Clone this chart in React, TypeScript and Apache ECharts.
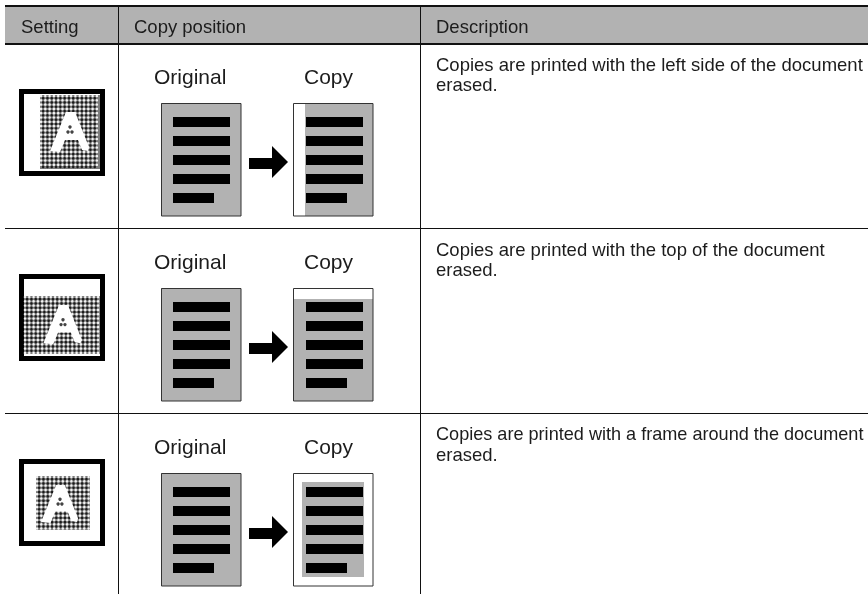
import React, { useEffect, useRef } from "react";
import * as echarts from "echarts";

const headers = ["Setting", "Copy position", "Description"];
const headerX = [21, 134, 436];
const rowOriginal = "Original";
const rowCopy = "Copy";
const descriptions = [
  ["Copies are printed with the left side of the document", "erased."],
  ["Copies are printed with the top of the document", "erased."],
  ["Copies are printed with a frame around the document", "erased."],
];
const descriptionSizes = [18.5, 18.5, 18.1];
const rowOffsets = [0, 185, 370];
const barTops = [117, 136, 155, 174, 193];
const GRAY = "#b2b2b2";
const FONT = '"Liberation Sans", Arial, sans-serif';

const rect = (x: number, y: number, w: number, h: number, fill: string, extra: any = {}) => ({
  type: "rect",
  silent: true,
  shape: { x, y, width: w, height: h },
  style: { fill, ...extra },
});
const text = (x: number, y: number, t: string, size: number) => ({
  type: "text",
  silent: true,
  x,
  y,
  style: { text: t, fill: "#1c1c1c", font: `${size}px ${FONT}`, verticalAlign: "middle", align: "left" },
});

function dither(x0: number, y0: number, x1: number, y1: number) {
  const out: any[] = [rect(x0, y0, x1 - x0, y1 - y0, "#7c7c7c")];
  const pitch = 4.3;
  for (let y = y0; y + 2 <= y1; y += pitch) {
    for (let x = x0; x + 2 <= x1; x += pitch) {
      out.push({ type: "circle", silent: true, shape: { cx: x + 1, cy: y + 1, r: 1.25 }, style: { fill: "#f4f4f4" } });
      if (x + pitch / 2 + 2 <= x1 && y + pitch / 2 + 2 <= y1) {
        out.push({ type: "circle", silent: true, shape: { cx: x + 1 + pitch / 2, cy: y + 1 + pitch / 2, r: 1.25 }, style: { fill: "#1a1a1a" } });
      }
    }
  }
  return out;
}

function letterA(px: number, py: number, s: number) {
  const P = (dx: number, dy: number) => [px + dx * s, py + dy * s];
  return [
    {
      type: "polygon",
      silent: true,
      shape: {
        points: [P(-4, 0), P(5, 0), P(19, 35), P(18, 39), P(12, 38), P(8, 28), P(-5, 28), P(-10, 40), P(-20, 39)],
      },
      style: { fill: "#ffffff" },
    },
    { type: "circle", silent: true, shape: { cx: px, cy: py + 15 * s, r: 1.7 }, style: { fill: "#444" } },
    { type: "circle", silent: true, shape: { cx: px - 2 * s, cy: py + 20 * s, r: 1.7 }, style: { fill: "#444" } },
    { type: "circle", silent: true, shape: { cx: px + 2 * s, cy: py + 20 * s, r: 1.7 }, style: { fill: "#444" } },
  ];
}

function icon(kind: number, off: number) {
  const x = 19, y = 89 + off, size = 86, b = 5;
  const parts: any[] = [rect(x, y, size, size + 1, "#000"), rect(x + b, y + b, size - 2 * b, size + 1 - 2 * b, "#fff")];
  if (kind === 0) {
    parts.push(...dither(40, y + b + 1, x + size - b, y + size - b - 1));
    parts.push(...letterA(70, y + 23, 1));
  } else if (kind === 1) {
    parts.push(...dither(x + b, y + 22, x + size - b, y + size - b - 1));
    parts.push(...letterA(63, y + 31, 0.98));
  } else {
    parts.push(...dither(36, 476, 90, 530));
    parts.push(...letterA(60, 485, 0.95));
  }
  return parts;
}

function page(x: number, off: number, kind: number) {
  const y = 103 + off;
  const parts: any[] = [rect(x, y, 80, 113, kind < 0 ? GRAY : "#fff")];
  if (kind === 0) parts.push(rect(x + 12, y, 68, 113, GRAY));
  if (kind === 1) parts.push(rect(x, y + 11, 80, 102, GRAY));
  if (kind === 2) parts.push(rect(x + 9, y + 9, 62, 95, GRAY));
  parts.push(rect(x + 0.5, y + 0.5, 79.5, 112.5, "none", { stroke: "#333", lineWidth: 1 }));
  const bx = kind < 0 ? x + 12 : x + 13;
  barTops.forEach((t, i) => {
    parts.push(rect(bx, t + off, i === 4 ? 41 : 57, 10, "#000"));
  });
  return parts;
}

function arrow(off: number) {
  const o = off;
  return {
    type: "polygon",
    silent: true,
    shape: {
      points: [
        [249, 158 + o], [272, 158 + o], [272, 146 + o], [288, 162 + o], [272, 178 + o], [272, 169 + o], [249, 169 + o],
      ],
    },
    style: { fill: "#000" },
  };
}

export default function App() {
  const ref = useRef<HTMLDivElement>(null);
  useEffect(() => {
    document.body.style.margin = "0";
    const chart = echarts.init(ref.current!, undefined, { renderer: "svg" });
    const g: any[] = [];
    g.push(rect(0, 0, 868, 594, "#fff"));
    g.push(rect(5, 6, 863, 38, GRAY));
    g.push(rect(5, 5, 863, 2, "#111"));
    g.push(rect(5, 43, 863, 2, "#111"));
    g.push(rect(5, 228, 863, 1, "#111"));
    g.push(rect(5, 413, 863, 1, "#111"));
    g.push(rect(118, 6, 1, 588, "#111"));
    g.push(rect(420, 6, 1, 588, "#111"));
    headers.forEach((h, i) => g.push(text(headerX[i], 26, h, 18.5)));
    rowOffsets.forEach((off, i) => {
      g.push(...icon(i, off));
      g.push(text(154, 76 + off, rowOriginal, 21));
      g.push(text(304, 76 + off, rowCopy, 21));
      g.push(...page(161, off, -1));
      g.push(arrow(off));
      g.push(...page(293, off, i));
      descriptions[i].forEach((d, j) => g.push(text(436, 64 + off + j * 20, d, j === 0 ? descriptionSizes[i] : 18.5)));
    });
    chart.setOption({ animation: false, graphic: { elements: g } });
    return () => chart.dispose();
  }, []);
  return <div ref={ref} style={{ width: 868, height: 594, position: "fixed", left: 0, top: 0 }} />;
}
